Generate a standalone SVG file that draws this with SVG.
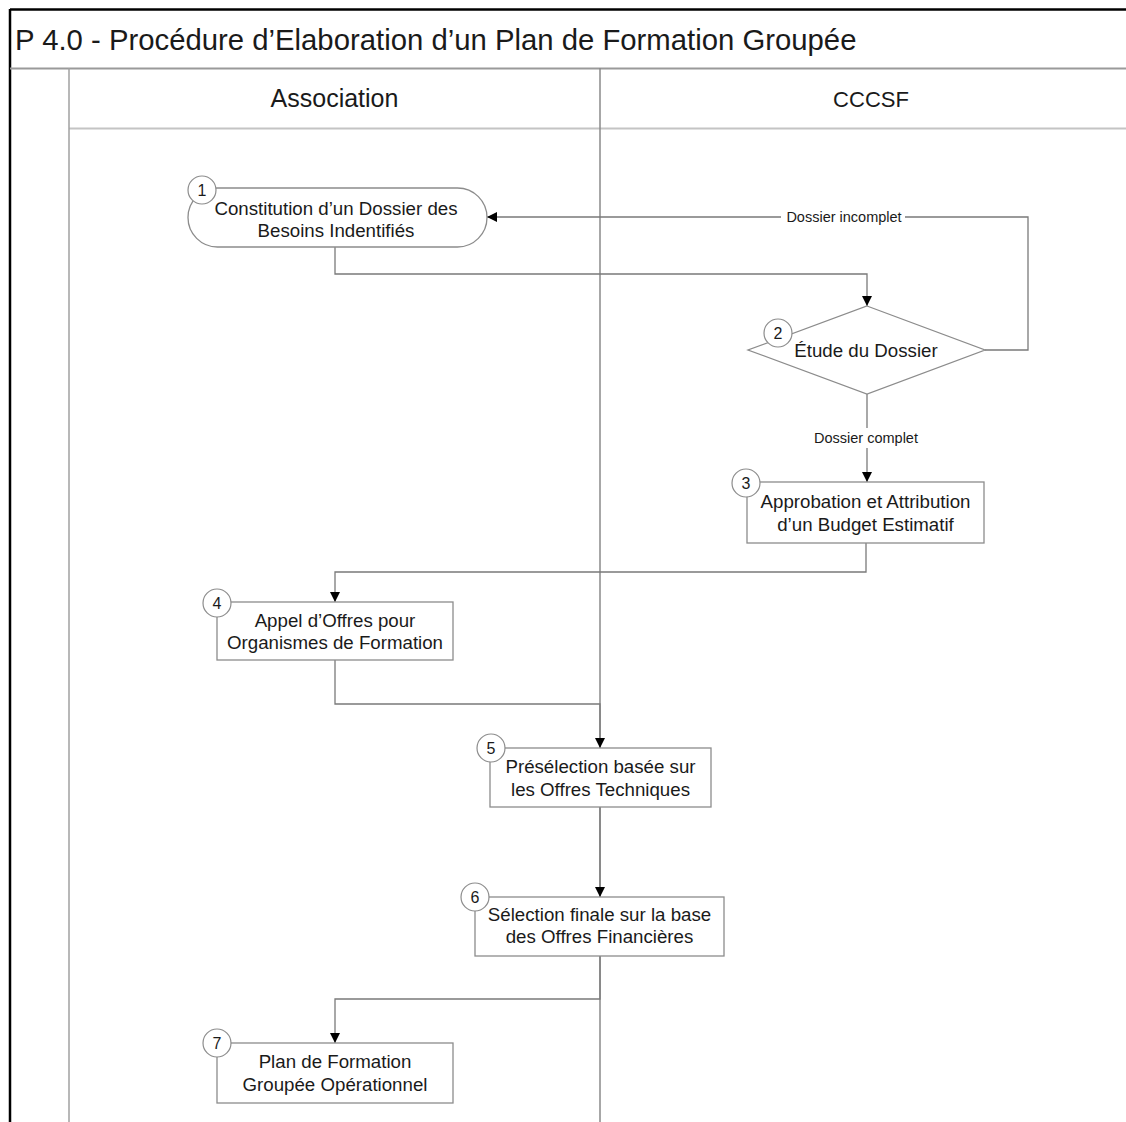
<svg xmlns="http://www.w3.org/2000/svg" width="1126" height="1122" viewBox="0 0 1126 1122">
  <defs>
    <style>
      text { font-family: "Liberation Sans", Arial, sans-serif; fill: #1a1a1a; }
      .title { font-size: 29.3px; }
      .lane { font-size: 25px; text-anchor: middle; }
      .label { font-size: 18.7px; text-anchor: middle; }
      .num { font-size: 16px; text-anchor: middle; }
      .edge-label { font-size: 14.5px; text-anchor: middle; }
      .shape { fill: #ffffff; stroke: #8c8c8c; stroke-width: 1.3; }
      .badge { fill: #ffffff; stroke: #8c8c8c; stroke-width: 1.2; }
      .conn { fill: none; stroke: #7a7a7a; stroke-width: 1.3; }
    </style>
    <marker id="arrow" viewBox="0 0 10 10" refX="10" refY="5" markerWidth="10" markerHeight="10" markerUnits="userSpaceOnUse" orient="auto">
      <path d="M0,0 L10,5 L0,10 Z" fill="#000000"/>
    </marker>
  </defs>

  <rect width="1126" height="1122" fill="#ffffff"/>

  <!-- Frame and swimlanes -->
  <g id="frame">
    <line x1="10" y1="9.5" x2="1126" y2="9.5" stroke="#000000" stroke-width="2.5"/>
    <line x1="10" y1="9" x2="10" y2="1122" stroke="#000000" stroke-width="2.5"/>
    <text class="title" x="15" y="50">P 4.0 - Procédure d’Elaboration d’un Plan de Formation Groupée</text>
    <line x1="10" y1="68.5" x2="1126" y2="68.5" stroke="#9a9a9a" stroke-width="2"/>
    <line x1="69" y1="128.5" x2="1126" y2="128.5" stroke="#c4c4c4" stroke-width="2"/>
    <line x1="69" y1="68" x2="69" y2="1122" stroke="#a0a0a0" stroke-width="1.5"/>
    <line x1="600" y1="68" x2="600" y2="1122" stroke="#8a8a8a" stroke-width="1.5"/>
    <text class="lane" x="334.5" y="107">Association</text>
    <text class="lane" x="871" y="107" style="font-size:22px">CCCSF</text>
  </g>

  <!-- Connectors -->
  <g id="connectors">
    <path class="conn" d="M335 247 V274 H867 V306" marker-end="url(#arrow)"/>
    <path class="conn" d="M985 350 H1028 V217 H487" marker-end="url(#arrow)"/>
    <path class="conn" d="M867 394 V482" marker-end="url(#arrow)"/>
    <path class="conn" d="M866 543 V572 H335 V602" marker-end="url(#arrow)"/>
    <path class="conn" d="M335 660 V704 H600 V748" marker-end="url(#arrow)"/>
    <path class="conn" d="M600 807 V897" marker-end="url(#arrow)"/>
    <path class="conn" d="M600 956 V999 H335 V1043" marker-end="url(#arrow)"/>
    <rect x="781" y="208" width="124" height="18" fill="#ffffff"/>
    <text class="edge-label" x="844" y="222">Dossier incomplet</text>
    <rect x="810" y="428" width="112" height="20" fill="#ffffff"/>
    <text class="edge-label" x="866" y="443">Dossier complet</text>
  </g>

  <g id="node1">
    <rect class="shape" x="188" y="188" width="299" height="59" rx="29.5" ry="29.5"/>
    <text class="label" x="336" y="215">Constitution d’un Dossier des</text>
    <text class="label" x="336" y="237">Besoins Indentifiés</text>
    <circle class="badge" cx="202" cy="190" r="14"/>
    <text class="num" x="202" y="196">1</text>
  </g>

  <g id="node2">
    <polygon class="shape" points="867,306 985,350 867,394 748,350"/>
    <text class="label" x="866" y="357">Étude du Dossier</text>
    <circle class="badge" cx="778" cy="333" r="14"/>
    <text class="num" x="778" y="339">2</text>
  </g>

  <g id="node3">
    <rect class="shape" x="747" y="482" width="237" height="61"/>
    <text class="label" x="865.5" y="508">Approbation et Attribution</text>
    <text class="label" x="865.5" y="531">d’un Budget Estimatif</text>
    <circle class="badge" cx="746" cy="483" r="14"/>
    <text class="num" x="746" y="489">3</text>
  </g>

  <g id="node4">
    <rect class="shape" x="217" y="602" width="236" height="58"/>
    <text class="label" x="335" y="627">Appel d’Offres pour</text>
    <text class="label" x="335" y="649">Organismes de Formation</text>
    <circle class="badge" cx="217" cy="603" r="14"/>
    <text class="num" x="217" y="609">4</text>
  </g>

  <g id="node5">
    <rect class="shape" x="490" y="748" width="221" height="59"/>
    <text class="label" x="600.5" y="773">Présélection basée sur</text>
    <text class="label" x="600.5" y="796">les Offres Techniques</text>
    <circle class="badge" cx="491" cy="748" r="14"/>
    <text class="num" x="491" y="754">5</text>
  </g>

  <g id="node6">
    <rect class="shape" x="475" y="897" width="249" height="59"/>
    <text class="label" x="599.5" y="921">Sélection finale sur la base</text>
    <text class="label" x="599.5" y="943">des Offres Financières</text>
    <circle class="badge" cx="475" cy="897" r="14"/>
    <text class="num" x="475" y="903">6</text>
  </g>

  <g id="node7">
    <rect class="shape" x="217" y="1043" width="236" height="60"/>
    <text class="label" x="335" y="1068">Plan de Formation</text>
    <text class="label" x="335" y="1091">Groupée Opérationnel</text>
    <circle class="badge" cx="217" cy="1043" r="14"/>
    <text class="num" x="217" y="1049">7</text>
  </g>
</svg>
